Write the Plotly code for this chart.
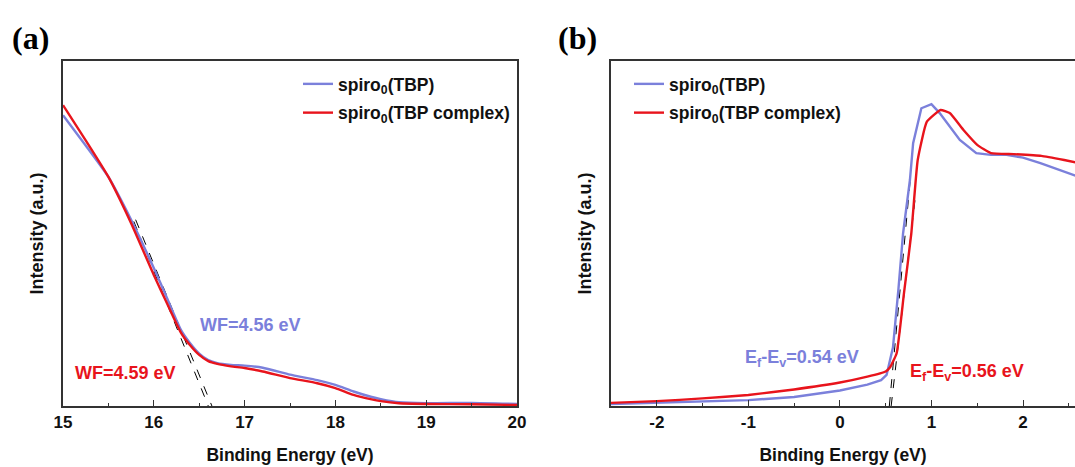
import plotly.graph_objects as go

# Panel (a): secondary electron cutoff region
a_x = [15.0, 15.25, 15.5, 15.75, 16.0, 16.15, 16.3, 16.4, 16.5, 16.6, 16.7, 16.85, 17.0, 17.2, 17.5, 17.8, 18.0, 18.2, 18.4, 18.5, 18.7, 19.0, 19.5, 20.0]
a_blue = [0.843, 0.755, 0.664, 0.54, 0.40, 0.31, 0.22, 0.182, 0.152, 0.133, 0.124, 0.119, 0.117, 0.111, 0.091, 0.075, 0.061, 0.042, 0.026, 0.02, 0.011, 0.008, 0.009, 0.006]
a_red = [0.872, 0.77, 0.664, 0.53, 0.38, 0.295, 0.212, 0.176, 0.148, 0.13, 0.122, 0.115, 0.11, 0.1, 0.081, 0.066, 0.052, 0.032, 0.019, 0.014, 0.008, 0.006, 0.005, 0.003]
a_fit1_x = [15.78, 16.60]
a_fit1_y = [0.535, 0.0]
a_fit2_x = [15.80, 16.64]
a_fit2_y = [0.54, 0.0]
a_ticks = [15, 16, 17, 18, 19, 20]
a_ticktext = ["15", "16", "17", "18", "19", "20"]

# Panel (b): valence band edge region
b_x_blue = [-2.5, -2.0, -1.5, -1.0, -0.5, 0.0, 0.3, 0.45, 0.51, 0.58, 0.64, 0.69, 0.765, 0.8, 0.89, 1.0, 1.09, 1.2, 1.31, 1.49, 1.65, 1.82, 2.0, 2.19, 2.43, 2.6]
b_blue = [0.006, 0.009, 0.012, 0.017, 0.026, 0.045, 0.062, 0.075, 0.09, 0.17, 0.34, 0.50, 0.655, 0.762, 0.863, 0.875, 0.849, 0.81, 0.771, 0.733, 0.728, 0.728, 0.72, 0.704, 0.68, 0.665]
b_x_red = [-2.5, -2.0, -1.5, -1.0, -0.5, 0.0, 0.3, 0.5, 0.55, 0.62, 0.7, 0.78, 0.85, 0.95, 1.1, 1.2, 1.35, 1.5, 1.65, 1.9, 2.2, 2.45, 2.6]
b_red = [0.009, 0.014, 0.022, 0.032, 0.048, 0.068, 0.085, 0.1, 0.113, 0.153, 0.327, 0.5, 0.713, 0.824, 0.858, 0.849, 0.80, 0.757, 0.733, 0.730, 0.725, 0.713, 0.705]
b_fit1_x = [0.54, 0.77]
b_fit1_y = [0.0, 0.66]
b_fit2_x = [0.56, 0.83]
b_fit2_y = [0.0, 0.62]
b_ticks = [-2, -1, 0, 1, 2]
b_ticktext = ["-2", "-1", "0", "1", "2"]

name_blue = "spiro<sub>0</sub>(TBP)"
name_red = "spiro<sub>0</sub>(TBP complex)"
label_a_blue = "WF=4.56 eV"
label_a_red = "WF=4.59 eV"
label_b_blue = "E<sub>f</sub>-E<sub>v</sub>=0.54 eV"
label_b_red = "E<sub>f</sub>-E<sub>v</sub>=0.56 eV"

BLUE = "#7b80db"
RED = "#e8141c"
FONT = "Liberation Sans"

fig = go.Figure()

# panel (a)
fig.add_trace(go.Scatter(x=a_fit1_x, y=a_fit1_y, mode="lines", line=dict(color="black", width=1, dash="dash"), showlegend=False, xaxis="x", yaxis="y"))
fig.add_trace(go.Scatter(x=a_fit2_x, y=a_fit2_y, mode="lines", line=dict(color="black", width=1, dash="dash"), showlegend=False, xaxis="x", yaxis="y"))
fig.add_trace(go.Scatter(x=a_x, y=a_blue, mode="lines", name=name_blue, line=dict(color=BLUE, width=2.4, shape="spline", smoothing=0.5), xaxis="x", yaxis="y", legend="legend", legendgroup="a1"))
fig.add_trace(go.Scatter(x=a_x, y=a_red, mode="lines", name=name_red, line=dict(color=RED, width=2.4, shape="spline", smoothing=0.5), xaxis="x", yaxis="y", legend="legend", legendgroup="a2"))

# panel (b)
fig.add_trace(go.Scatter(x=b_fit1_x, y=b_fit1_y, mode="lines", line=dict(color="black", width=1, dash="dash"), showlegend=False, xaxis="x2", yaxis="y2"))
fig.add_trace(go.Scatter(x=b_fit2_x, y=b_fit2_y, mode="lines", line=dict(color="black", width=1, dash="dash"), showlegend=False, xaxis="x2", yaxis="y2"))
fig.add_trace(go.Scatter(x=b_x_blue, y=b_blue, mode="lines", name=name_blue, line=dict(color=BLUE, width=2.4), xaxis="x2", yaxis="y2", legend="legend2", legendgroup="b1"))
fig.add_trace(go.Scatter(x=b_x_red, y=b_red, mode="lines", name=name_red, line=dict(color=RED, width=2.4, shape="spline", smoothing=0.4), xaxis="x2", yaxis="y2", legend="legend2", legendgroup="b2"))

W, H = 1075, 467
ydom = [1 - 406 / H, 1 - 61 / H]

xcommon = dict(
    showline=True, linecolor="#333", linewidth=1.5, mirror=True,
    ticks="inside", ticklen=6, tickwidth=1.2, tickcolor="#333",
    minor=dict(ticks="inside", ticklen=3, tickwidth=1.2, tickcolor="#333", dtick=0.5),
    tickmode="array", showgrid=False, zeroline=False,
    tickfont=dict(family=FONT, size=17, color="#111", weight="bold"),
    title=dict(text="Binding Energy (eV)", font=dict(family=FONT, size=17.5, color="#111", weight="bold"), standoff=18),
    automargin=False,
)
ycommon = dict(
    showline=True, linecolor="#333", linewidth=1.5, showticklabels=False, ticks="",
    showgrid=False, zeroline=False, range=[0, 1], domain=ydom,
    title=dict(text="Intensity (a.u.)", font=dict(family=FONT, size=18, color="#111", weight="bold"), standoff=13),
    automargin=False,
)

legfont = dict(family=FONT, size=17.5, color="#111", weight="bold")

fig.update_layout(
    width=W, height=H, margin=dict(l=0, r=0, t=0, b=0),
    plot_bgcolor="white", paper_bgcolor="white",
    xaxis=dict(xcommon, domain=[63 / W, 517 / W], range=[15, 20], tickvals=a_ticks, ticktext=a_ticktext,
               minor=dict(xcommon["minor"], tick0=15)),
    yaxis=dict(ycommon, mirror=True),
    xaxis2=dict(xcommon, domain=[611 / W, 1.0], range=[-2.5, 2.568], tickvals=b_ticks, ticktext=b_ticktext, anchor="y2",
                minor=dict(xcommon["minor"], tick0=0)),
    yaxis2=dict(ycommon, mirror=False, anchor="x2"),
    legend=dict(x=298 / W, y=1 - 66 / H, xanchor="left", yanchor="top", bgcolor="rgba(0,0,0,0)",
                font=legfont, tracegroupgap=3),
    legend2=dict(x=629 / W, y=1 - 66 / H, xanchor="left", yanchor="top", bgcolor="rgba(0,0,0,0)",
                 font=legfont, tracegroupgap=3),
    showlegend=True,
)

fig.add_annotation(text="(a)", xref="paper", yref="paper", x=10 / W, y=1 - 38 / H, xanchor="left", yanchor="middle",
                   showarrow=False, font=dict(family="Liberation Serif", size=32, color="black", weight="bold"))
fig.add_annotation(text="(b)", xref="paper", yref="paper", x=556 / W, y=1 - 38 / H, xanchor="left", yanchor="middle",
                   showarrow=False, font=dict(family="Liberation Serif", size=32, color="black", weight="bold"))

ann_font = dict(family=FONT, size=18, weight="bold")
fig.add_annotation(text=label_a_blue, xref="x", yref="y", x=17.07, y=(406 - 325) / 345, showarrow=False, font=dict(ann_font, color=BLUE))
fig.add_annotation(text=label_a_red, xref="x", yref="y", x=15.69, y=(406 - 373) / 345, showarrow=False, font=dict(ann_font, color=RED))
fig.add_annotation(text=label_b_blue, xref="x2", yref="y2", x=-0.41, y=(406 - 358) / 345, showarrow=False, font=dict(ann_font, color=BLUE))
fig.add_annotation(text=label_b_red, xref="x2", yref="y2", x=1.39, y=(406 - 372) / 345, showarrow=False, font=dict(ann_font, color=RED))

fig.write_html("out.html")
